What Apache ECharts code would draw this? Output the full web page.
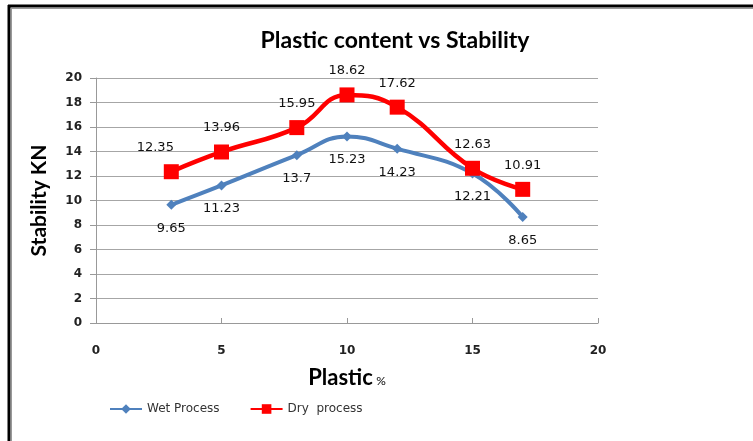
<!DOCTYPE html>
<html>
<head>
<meta charset="utf-8">
<script src="https://cdn.jsdelivr.net/npm/echarts@6/dist/echarts.min.js"></script>
<style>
html,body{margin:0;padding:0;background:#fff;}
#c{width:753px;height:441px;}
</style>
</head>
<body>
<div id="c"></div>
<script>
var plastic = [3, 5, 8, 10, 12, 15, 17];
var wetProcess = [9.65, 11.23, 13.7, 15.23, 14.23, 12.21, 8.65];
var dryProcess = [12.35, 13.96, 15.95, 18.62, 17.62, 12.63, 10.91];
var seriesNames = ['Wet Process', 'Dry  process'];

function pairs(xs, ys) { return xs.map(function (x, i) { return [x, ys[i]]; }); }

var chart = echarts.init(document.getElementById('c'));
var labelFont = { fontFamily: 'DejaVu Sans', fontSize: 13, color: '#111', fontWeight: 'normal' };

var dryData = pairs(plastic, dryProcess).map(function (p, i) {
  var d = { value: p };
  if (i === 0) d.label = { offset: [-16, 0] };
  return d;
});

chart.setOption({
  animation: false,
  graphic: [
    { type: 'line', shape: { x1: 8, y1: 6, x2: 753, y2: 6 }, style: { stroke: '#000', lineWidth: 3 } },
    { type: 'line', shape: { x1: 9, y1: 5, x2: 9, y2: 441 }, style: { stroke: '#000', lineWidth: 3 } },
    { type: 'line', shape: { x1: 11, y1: 8.5, x2: 753, y2: 8.5 }, style: { stroke: '#999', lineWidth: 1 } },
    { type: 'line', shape: { x1: 11.5, y1: 8, x2: 11.5, y2: 441 }, style: { stroke: '#999', lineWidth: 1 } }
  ],
  title: {
    text: 'Plastic content vs Stability',
    left: 390, top: 24, textAlign: 'center',
    textStyle: { fontFamily: 'Lato', fontWeight: 'bold', fontSize: 23, color: '#000' }
  },
  legend: {
    left: 104, top: 398,
    itemWidth: 32, itemHeight: 12, itemGap: 30,
    textStyle: { fontFamily: 'DejaVu Sans', fontSize: 12, color: '#333' },
    data: seriesNames
  },
  grid: { left: 96, right: 155, top: 78, bottom: 118 },
  xAxis: {
    type: 'value', min: 0, max: 20, interval: 5,
    name: '{a|Plastic} {b|%}', nameLocation: 'middle', nameGap: 44,
    nameTextStyle: { rich: {
      a: { fontFamily: 'Lato', fontWeight: 'bold', fontSize: 22, color: '#000' },
      b: { fontFamily: 'Lato', fontSize: 12, color: '#000', padding: [6, 0, 0, 0] }
    } },
    axisLine: { lineStyle: { color: '#999' } },
    axisTick: { show: true, inside: true, length: 5, lineStyle: { color: '#999' } },
    axisLabel: { margin: 22, fontFamily: 'DejaVu Sans', fontWeight: 'bold', fontSize: 12, color: '#222' },
    splitLine: { show: false }
  },
  yAxis: {
    type: 'value', min: 0, max: 20, interval: 2,
    name: 'Stability KN', nameLocation: 'middle', nameGap: 46, nameRotate: 90,
    nameTextStyle: { fontFamily: 'Lato', fontWeight: 'bold', fontSize: 21, color: '#000' },
    axisLine: { show: true, lineStyle: { color: '#999' } },
    axisTick: { show: true, length: 6, lineStyle: { color: '#999' } },
    axisLabel: { margin: 14, fontFamily: 'DejaVu Sans', fontWeight: 'bold', fontSize: 12, color: '#222' },
    splitLine: { lineStyle: { color: '#a6a6a6', width: 1 } }
  },
  series: [
    {
      name: seriesNames[0], type: 'line', smooth: 0.45,
      data: pairs(plastic, wetProcess),
      symbol: 'diamond', symbolSize: 10,
      lineStyle: { color: '#4F81BD', width: 4 },
      itemStyle: { color: '#4F81BD' },
      label: Object.assign({ show: true, position: 'bottom', distance: 12 }, labelFont),
      z: 2
    },
    {
      name: seriesNames[1], type: 'line', smooth: 0.45,
      data: dryData,
      symbol: 'rect', symbolSize: 15,
      lineStyle: { color: '#FF0000', width: 4.5 },
      itemStyle: { color: '#FF0000' },
      label: Object.assign({ show: true, position: 'top', distance: 10 }, labelFont),
      z: 3
    }
  ]
});
</script>
</body>
</html>
